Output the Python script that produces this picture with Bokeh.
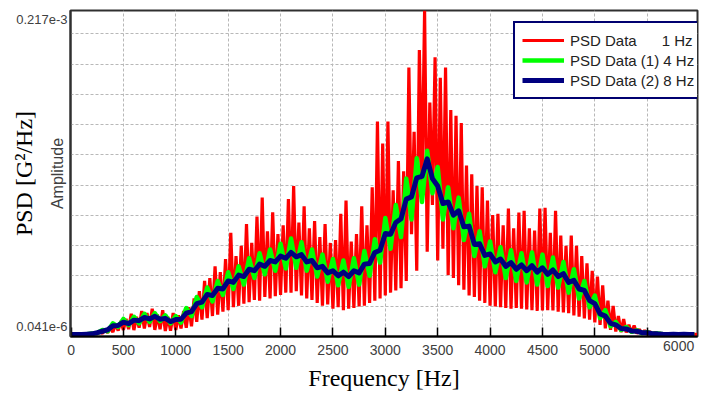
import numpy as np
from bokeh.plotting import figure
from bokeh.models import Range1d, FixedTicker, LinearAxis, Legend, LegendItem
from bokeh.embed import file_html
from bokeh.resources import INLINE

# Frequency grids [Hz]
freq_1hz = np.arange(0, 6000, 25)
freq_avg = np.arange(0, 6000, 50)

# PSD values, in units of 1e-6 G^2/Hz
psd_1hz = [
    1.4, 1.4, 1.4, 1.5,   1.4, 1.8, 1.5, 2.0,   1.6, 2.4, 1.8, 3.0,   2.2, 4.8, 2.6, 6.0,
    3.0, 8.5, 4.0, 10.5,  4.5, 12.0, 5.0, 15.5, 4.4, 13.5, 6.0, 17.5, 5.5, 16.0, 6.5, 19.0,
    4.5, 15.0, 5.0, 18.0, 3.8, 13.5, 4.0, 16.0, 4.5, 14.5, 5.5, 17.5, 6.0, 20.0, 7.0, 26.0,
    10.0, 31.0, 11.5, 38.0, 12.5, 40.0, 14.0, 48.0, 15.0, 44.0, 17.0, 53.0, 18.0, 71.0, 20.0, 55.0,
    21.0, 62.0, 22.5, 77.0, 23.5, 64.0, 25.0, 82.0, 24.5, 95.0, 27.0, 72.0, 26.0, 85.0, 27.5, 70.0,
    28.5, 76.0, 30.0, 94.0, 30.0, 103.0, 31.0, 78.0, 28.0, 89.0, 26.0, 74.0, 25.0, 79.0, 23.0, 68.0,
    21.0, 77.0, 22.0, 64.0, 19.0, 66.0, 20.0, 84.0, 18.0, 93.0, 19.0, 65.0, 19.5, 70.0, 20.5, 89.0,
    21.0, 76.0, 23.0, 102.0, 24.5, 147.0, 26.0, 132.0, 28.0, 147.0, 30.0, 100.0, 31.5, 120.0, 33.0, 113.0,
    38.0, 184.0, 70.0, 140.0, 45.0, 196.0, 100.0, 223.0, 58.0, 160.0, 90.0, 191.0, 52.0, 177.0, 60.0, 184.0,
    42.0, 155.0, 40.0, 151.0, 35.0, 146.0, 32.0, 117.0, 28.0, 111.0, 27.0, 103.0, 24.5, 102.0, 23.0, 93.0,
    21.0, 83.0, 20.5, 84.0, 20.0, 76.0, 19.5, 87.5, 19.0, 74.0, 19.5, 84.8, 19.0, 86.0, 18.5, 74.0,
    18.0, 72.5, 17.5, 87.5, 17.8, 88.0, 18.0, 71.0, 17.8, 86.0, 17.0, 69.0, 16.4, 62.0, 16.0, 69.0,
    14.4, 62.0, 13.5, 55.0, 12.3, 50.0, 11.5, 45.0, 9.6, 41.0, 8.0, 35.0, 5.5, 24.5, 4.5, 21.0,
    3.4, 14.0, 3.0, 12.0, 2.7, 8.0, 2.4, 7.5, 2.0, 5.0, 1.8, 4.2, 1.4, 3.4, 1.5, 3.0,
    1.4, 2.2, 1.4, 2.0, 1.4, 1.8, 1.4, 1.7, 1.4, 1.6, 1.4, 1.5, 1.4, 1.5, 1.4, 1.4,
]

psd_4hz = [
    1.4, 1.4, 1.5, 1.5, 2.0, 2.4, 4.5, 3.6, 9.0, 6.6, 12.0, 7.8, 13.5, 9.0, 15.5, 10.0,
    16.0, 10.5, 14.5, 9.0, 14.0, 9.5, 19.5, 14.0, 27.0, 20.0, 33.5, 24.0, 38.0, 28.5, 44.0, 32.5,
    48.0, 35.5, 53.5, 40.0, 57.0, 42.5, 59.5, 45.0, 63.5, 46.5, 67.0, 47.0, 64.5, 45.0, 59.5, 41.0,
    56.0, 37.5, 53.0, 35.0, 52.0, 34.0, 53.5, 35.5, 58.5, 41.5, 66.5, 50.5, 81.0, 60.0, 90.0, 68.0,
    108.0, 80.0, 122.0, 92.0, 127.0, 98.0, 116.0, 80.0, 102.0, 74.0, 95.0, 66.0, 84.0, 55.0, 72.0, 48.0,
    65.0, 44.0, 61.0, 40.0, 59.0, 38.0, 57.0, 37.0, 57.5, 35.5, 56.0, 34.5, 54.0, 33.5, 51.0, 30.0,
    46.0, 26.0, 38.0, 20.0, 28.0, 12.5, 18.0, 7.0, 10.0, 4.5, 6.5, 3.2, 4.2, 2.3, 3.0, 1.8,
    2.0, 1.5, 1.6, 1.4, 1.5, 1.4, 1.5, 1.4,
]

psd_8hz = [
    1.4, 1.4, 1.4, 1.6, 1.8, 2.6, 3.6, 4.6, 7.4, 7.6, 9.8, 8.8, 11.2, 10.8, 13.0, 12.0,
    13.8, 11.8, 12.4, 10.2, 11.6, 11.8, 16.0, 17.0, 22.5, 23.5, 28.8, 28.0, 33.0, 32.5, 38.0, 37.0,
    42.0, 41.0, 46.0, 45.0, 49.5, 48.0, 52.0, 51.0, 55.0, 53.5, 57.5, 54.5, 56.0, 51.0, 52.0, 47.0,
    48.0, 43.5, 45.0, 41.5, 44.0, 41.0, 45.0, 43.5, 49.5, 50.0, 57.5, 59.0, 70.5, 70.0, 78.0, 80.5,
    94.0, 95.5, 108.5, 109.5, 121.5, 108.0, 103.0, 91.0, 92.0, 83.0, 86.0, 75.0, 75.5, 63.0, 63.5, 55.5,
    56.5, 51.0, 53.0, 48.0, 50.5, 46.0, 49.0, 45.0, 48.5, 44.0, 47.0, 42.5, 45.5, 41.0, 43.0, 37.0,
    38.5, 32.5, 31.5, 24.5, 22.5, 15.5, 14.0, 9.0, 8.0, 5.5, 5.2, 3.8, 3.6, 2.6, 2.6, 1.9,
    1.8, 1.5, 1.4, 1.5, 1.4, 1.5, 1.4, 1.4,
]

series_labels = [
    "PSD Data\u00a0\u00a0\u00a0\u00a0\u00a0\u00a01 Hz",
    "PSD Data (1) 4 Hz",
    "PSD Data (2) 8 Hz",
]
series_colors = ["#ff0000", "#00ff00", "#000080"]

x_tick_values = [0, 500, 1000, 1500, 2000, 2500, 3000, 3500, 4000, 4500, 5000, 5500]
x_tick_labels = ["0", "500", "1000", "1500", "2000", "2500", "3000", "3500",
                 "4000", "4500", "5000", ""]
x_end_tick = [5800]
x_end_label = ["6000"]
y_tick_values = [7, 217]
y_tick_labels = ["0.041e-6", "0.217e-3"]
y_grid_values = [20.7, 41.4, 62.1, 82.8, 103.5, 124.2, 144.9, 165.6, 186.3, 207.0]

p = figure(width=701, height=394, output_backend="svg", toolbar_location=None,
           x_range=Range1d(-5, 5980), y_range=Range1d(0, 223),
           min_border_left=70, min_border_right=4, min_border_top=10, min_border_bottom=58,
           background_fill_color="white", border_fill_color="white")
p.outline_line_color = "#303030"
p.outline_line_width = 2

r1 = p.line(freq_1hz, psd_1hz, line_color=series_colors[0], line_width=3.2, line_join="bevel")
r2 = p.line(freq_avg, psd_4hz, line_color=series_colors[1], line_width=4.5, line_join="round")
r3 = p.line(freq_avg, psd_8hz, line_color=series_colors[2], line_width=5, line_join="round")

legend = Legend(items=[LegendItem(label=series_labels[0], renderers=[r1]),
                       LegendItem(label=series_labels[1], renderers=[r2]),
                       LegendItem(label=series_labels[2], renderers=[r3])],
                location=(443, 237))
legend.border_line_color = "#000070"
legend.border_line_width = 2.5
legend.border_line_alpha = 1
legend.background_fill_color = "white"
legend.background_fill_alpha = 1
legend.label_text_font = "Liberation Sans"
legend.label_text_font_size = "15px"
legend.label_text_color = "#222222"
legend.glyph_width = 42
legend.glyph_height = 20
legend.label_height = 20
legend.spacing = 0
legend.padding = 7
legend.margin = 0
legend.label_standoff = 6
p.add_layout(legend)

# grids
p.xgrid.ticker = FixedTicker(ticks=x_tick_values[1:])
p.ygrid.ticker = FixedTicker(ticks=y_grid_values)
for g in (p.xgrid, p.ygrid):
    g.grid_line_color = "#b8b8b8"
    g.grid_line_dash = "3 2"
    g.grid_line_width = 1

# x axis (ticks and tick labels)
xa = p.xaxis[0]
xa.ticker = FixedTicker(ticks=x_tick_values)
xa.major_label_overrides = dict(zip(x_tick_values, x_tick_labels))
xa.major_tick_in = 9
xa.major_tick_out = 0
xa.minor_tick_in = 0
xa.minor_tick_out = 0
xa.major_tick_line_width = 1.5
xa.major_tick_line_color = "black"
xa.axis_line_color = "black"
xa.axis_line_width = 2
xa.major_label_text_font = "Liberation Sans"
xa.major_label_text_font_size = "14px"
xa.major_label_text_color = "#404040"
xa.major_label_standoff = 8

# outer x axis: end label "6000" on the same row, plus the axis title
xb = LinearAxis(ticker=FixedTicker(ticks=x_end_tick),
                major_label_overrides=dict(zip(x_end_tick, x_end_label)),
                axis_line_color=None, major_tick_line_color=None, minor_tick_line_color=None,
                major_tick_in=0, major_tick_out=0, minor_tick_in=0, minor_tick_out=0,
                major_label_text_font="Liberation Sans", major_label_text_font_size="14px",
                major_label_text_color="#404040", major_label_standoff=-17,
                axis_label="Frequency [Hz]", axis_label_text_font="Liberation Serif",
                axis_label_text_font_size="24px", axis_label_text_font_style="normal",
                axis_label_text_color="black", axis_label_standoff=11,
                axis_label_text_line_height=0.6)
p.add_layout(xb, "below")

# y axis
ya = p.yaxis[0]
ya.ticker = FixedTicker(ticks=y_tick_values)
ya.major_label_overrides = dict(zip(y_tick_values, y_tick_labels))
ya.major_tick_in = 0
ya.major_tick_out = 0
ya.minor_tick_in = 0
ya.minor_tick_out = 0
ya.axis_line_color = "#303030"
ya.axis_line_width = 2
ya.major_label_text_font = "Liberation Sans"
ya.major_label_text_font_size = "13px"
ya.major_label_text_color = "#404040"
ya.major_label_standoff = 3
ya.axis_label = "Amplitude"
ya.axis_label_text_font = "Liberation Sans"
ya.axis_label_text_font_size = "16px"
ya.axis_label_text_font_style = "normal"
ya.axis_label_text_color = "#404040"
ya.axis_label_standoff = -53

outer = LinearAxis(ticker=FixedTicker(ticks=[]), axis_line_color=None,
                   major_tick_line_color=None, minor_tick_line_color=None,
                   axis_label="PSD [G\u00b2/Hz]", axis_label_text_font="Liberation Serif",
                   axis_label_text_font_size="24px", axis_label_text_font_style="normal",
                   axis_label_text_color="black", axis_label_standoff=10)
p.add_layout(outer, "left")

open("out.html", "w").write(file_html(p, INLINE))
